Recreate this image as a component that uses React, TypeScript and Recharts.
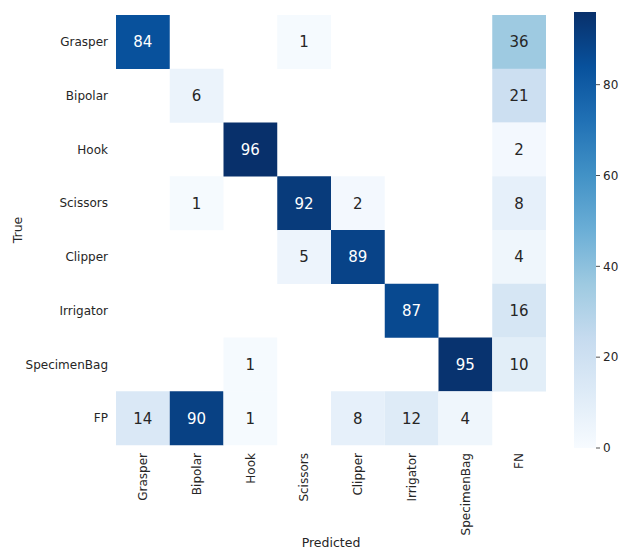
import React from 'react';
import { BarChart, Bar, XAxis, YAxis, Cell, LabelList } from 'recharts';

const predictedLabels = ['Grasper', 'Bipolar', 'Hook', 'Scissors', 'Clipper', 'Irrigator', 'SpecimenBag', 'FN'];
const trueLabels = ['Grasper', 'Bipolar', 'Hook', 'Scissors', 'Clipper', 'Irrigator', 'SpecimenBag', 'FP'];

const rowGrasper = [84, 0, 0, 1, 0, 0, 0, 36];
const rowBipolar = [0, 6, 0, 0, 0, 0, 0, 21];
const rowHook = [0, 0, 96, 0, 0, 0, 0, 2];
const rowScissors = [0, 1, 0, 92, 2, 0, 0, 8];
const rowClipper = [0, 0, 0, 5, 89, 0, 0, 4];
const rowIrrigator = [0, 0, 0, 0, 0, 87, 0, 16];
const rowSpecimenBag = [0, 0, 1, 0, 0, 0, 95, 10];
const rowFP = [14, 90, 1, 0, 8, 12, 4, 0];

const matrix = [rowGrasper, rowBipolar, rowHook, rowScissors, rowClipper, rowIrrigator, rowSpecimenBag, rowFP];

const colorbarTicks = [0, 20, 40, 60, 80];
const colorMax = 96;

const BLUES = ['#f7fbff', '#deebf7', '#c6dbef', '#9ecae1', '#6baed6', '#4292c6', '#2171b5', '#08519c', '#08306b'];

function hexToRgb(h: string) {
  return [parseInt(h.slice(1, 3), 16), parseInt(h.slice(3, 5), 16), parseInt(h.slice(5, 7), 16)];
}

function bluesRgb(t: number) {
  const c = Math.max(0, Math.min(1, t)) * (BLUES.length - 1);
  const i = Math.min(BLUES.length - 2, Math.floor(c));
  const f = c - i;
  const a = hexToRgb(BLUES[i]);
  const b = hexToRgb(BLUES[i + 1]);
  return a.map((v, k) => Math.round(v + (b[k] - v) * f));
}

function bluesColor(t: number) {
  const [r, g, b] = bluesRgb(t);
  return `rgb(${r},${g},${b})`;
}

function textColor(v: number) {
  const rgb = bluesRgb(v / colorMax).map((c) => {
    const s = c / 255;
    return s <= 0.03928 ? s / 12.92 : Math.pow((s + 0.055) / 1.055, 2.4);
  });
  const lum = 0.2126 * rgb[0] + 0.7152 * rgb[1] + 0.0722 * rgb[2];
  return lum > 0.408 ? '#262626' : '#ffffff';
}

const tableRows = trueLabels.map((name, i) => {
  const r: any = { name };
  predictedLabels.forEach((_, j) => {
    r['c' + j] = 1;
    r['v' + j] = matrix[i][j];
  });
  return r;
});

const colorbarData = [{ name: 'cb', v: colorMax }];

const FONT = "'DejaVu Sans', sans-serif";
const TXT = '#262626';

const renderAnnot = (props: any) => {
  const { x, y, width, height, value } = props;
  const v = Number(value);
  if (!v) return null;
  return (
    <text
      x={Number(x) + Number(width) / 2}
      y={Number(y) + Number(height) / 2}
      dy="0.36em"
      textAnchor="middle"
      fontSize={15}
      fontFamily={FONT}
      fill={textColor(v)}
    >
      {v}
    </text>
  );
};

const renderXTick = (props: any) => {
  const { x, y, payload } = props;
  const label = predictedLabels[Math.floor(payload.value)];
  return (
    <text
      x={x}
      y={y}
      transform={`rotate(-90 ${x} ${y})`}
      textAnchor="end"
      dy="0.36em"
      fontSize={12}
      fontFamily={FONT}
      fill={TXT}
    >
      {label}
    </text>
  );
};

const renderYLabel = (props: any) => {
  const vb = props.viewBox || {};
  const cx = 17;
  const cy = vb.y + vb.height / 2;
  return (
    <text
      x={cx}
      y={cy}
      transform={`rotate(-90 ${cx} ${cy})`}
      textAnchor="middle"
      dy="0.36em"
      fontSize={12.5}
      fontFamily={FONT}
      fill={TXT}
    >
      True
    </text>
  );
};

const renderXLabel = (props: any) => {
  const vb = props.viewBox || {};
  const cx = vb.x + vb.width / 2;
  return (
    <text x={cx} y={547} textAnchor="middle" fontSize={12.5} fontFamily={FONT} fill={TXT}>
      Predicted
    </text>
  );
};

export default function App() {
  return (
    <div style={{ position: 'absolute', left: 0, top: 0, width: 621, height: 553, fontFamily: FONT, background: '#fff' }}>
      <div style={{ position: 'absolute', left: 0, top: 0 }}>
        <BarChart
          width={621}
          height={553}
          data={tableRows}
          layout="vertical"
          barCategoryGap={0}
          margin={{ top: 15, right: 75, bottom: 8, left: 0 }}
        >
          <XAxis
            type="number"
            domain={[0, 8]}
            ticks={[0.5, 1.5, 2.5, 3.5, 4.5, 5.5, 6.5, 7.5]}
            interval={0}
            height={100}
            axisLine={false}
            tickLine={false}
            tickSize={0}
            tickMargin={8}
            tick={renderXTick}
            label={{ content: renderXLabel }}
          />
          <YAxis
            type="category"
            dataKey="name"
            width={116}
            interval={0}
            axisLine={false}
            tickLine={false}
            tickSize={0}
            tickMargin={8}
            tick={{ fontSize: 12, fill: TXT, fontFamily: FONT }}
            label={{ content: renderYLabel }}
          />
          {predictedLabels.map((_, j) => (
            <Bar key={j} dataKey={'c' + j} stackId="m" isAnimationActive={false}>
              {tableRows.map((_r, i) => (
                <Cell
                  key={i}
                  fill={matrix[i][j] > 0 ? bluesColor(matrix[i][j] / colorMax) : '#ffffff'}
                  fillOpacity={matrix[i][j] > 0 ? 1 : 0}
                />
              ))}
              <LabelList dataKey={'v' + j} content={renderAnnot} />
            </Bar>
          ))}
        </BarChart>
      </div>
      <div style={{ position: 'absolute', left: 0, top: 0 }}>
        <BarChart
          width={621}
          height={553}
          data={colorbarData}
          barCategoryGap={0}
          margin={{ top: 12, right: 0, bottom: 105, left: 574 }}
        >
          <defs>
            <linearGradient id="bluesGrad" x1="0" y1="1" x2="0" y2="0">
              {BLUES.map((c, k) => (
                <stop key={k} offset={k / (BLUES.length - 1)} stopColor={c} />
              ))}
            </linearGradient>
          </defs>
          <XAxis dataKey="name" hide />
          <YAxis
            orientation="right"
            type="number"
            domain={[0, colorMax]}
            ticks={colorbarTicks}
            interval={0}
            width={25}
            axisLine={false}
            tickSize={4}
            tickMargin={3}
            tickLine={{ stroke: TXT, strokeWidth: 0.8 }}
            tick={{ fontSize: 12, fill: TXT, fontFamily: FONT }}
          />
          <Bar dataKey="v" fill="url(#bluesGrad)" isAnimationActive={false} />
        </BarChart>
      </div>
    </div>
  );
}
